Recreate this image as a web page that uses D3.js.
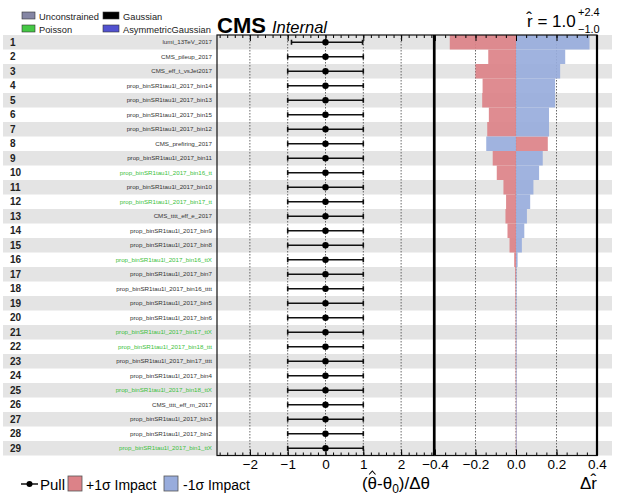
<!DOCTYPE html>
<html lang="en">
<head>
<meta charset="UTF-8">
<title>Impacts</title>
<script src="https://d3js.org/d3.v7.min.js"></script>
<style>
  body { margin: 0; background: #fff; }
  svg text { font-family: "Liberation Sans", Arial, Helvetica, sans-serif; }
</style>
</head>
<body>
<svg id="impacts" width="617" height="496"></svg>
<script>
// nuisance parameters, ranked by impact
const labels = [
  "lumi_13TeV_2017", "CMS_pileup_2017", "CMS_eff_t_vsJet2017",
  "prop_binSR1tau1l_2017_bin14", "prop_binSR1tau1l_2017_bin13", "prop_binSR1tau1l_2017_bin15",
  "prop_binSR1tau1l_2017_bin12", "CMS_prefiring_2017", "prop_binSR1tau1l_2017_bin11",
  "prop_binSR1tau1l_2017_bin16_tt", "prop_binSR1tau1l_2017_bin10", "prop_binSR1tau1l_2017_bin17_tt",
  "CMS_tttt_eff_e_2017", "prop_binSR1tau1l_2017_bin9", "prop_binSR1tau1l_2017_bin8",
  "prop_binSR1tau1l_2017_bin16_ttX", "prop_binSR1tau1l_2017_bin7", "prop_binSR1tau1l_2017_bin16_tttt",
  "prop_binSR1tau1l_2017_bin5", "prop_binSR1tau1l_2017_bin6", "prop_binSR1tau1l_2017_bin17_ttX",
  "prop_binSR1tau1l_2017_bin18_ttt", "prop_binSR1tau1l_2017_bin17_tttt", "prop_binSR1tau1l_2017_bin4",
  "prop_binSR1tau1l_2017_bin18_ttX", "CMS_tttt_eff_m_2017", "prop_binSR1tau1l_2017_bin3",
  "prop_binSR1tau1l_2017_bin2", "prop_binSR1tau1l_2017_bin1_ttX"
];
const constraintTypes = [
  "Gaussian", "Gaussian", "Gaussian", "Gaussian", "Gaussian", "Gaussian", "Gaussian", "Gaussian", "Gaussian",
  "Poisson", "Gaussian", "Poisson", "Gaussian", "Gaussian", "Gaussian", "Poisson", "Gaussian", "Gaussian",
  "Gaussian", "Gaussian", "Poisson", "Poisson", "Gaussian", "Gaussian", "Poisson", "Gaussian", "Gaussian",
  "Gaussian", "Poisson"
];
const pullValues = [0, 0, 0, 0, 0, 0, 0, 0, 0, 0, 0, 0, 0, 0, 0, 0, 0, 0, 0, 0, 0, 0, 0, 0, 0, 0, 0, 0, 0];
const pullLow = [-0.9, -1, -1, -1, -1, -1, -1, -1, -1, -1, -1, -1, -1, -1, -1, -1, -1, -1, -1, -1, -1, -1, -1, -1, -1, -1, -1, -1, -1];
const pullHigh = [0.98, 1, 1, 1, 1, 1, 1, 1, 1, 1, 1, 1, 1, 1, 1, 1, 1, 1, 1, 1, 1, 1, 1, 1, 1, 1, 1, 1, 1];
const impactUp = [
  -0.327, -0.137, -0.200, -0.165, -0.167, -0.134, -0.142, 0.157, -0.115,
  -0.095, -0.062, -0.049, -0.052, -0.042, -0.032, -0.009, -0.004, -0.003,
  -0.003, -0.002, -0.002, -0.002, -0.002, -0.002, -0.001, -0.001, -0.001,
  -0.001, -0.001
];
const impactDown = [
  0.363, 0.243, 0.218, 0.193, 0.193, 0.163, 0.163, -0.147, 0.132,
  0.114, 0.086, 0.070, 0.054, 0.041, 0.029, 0.008, 0.003, 0.003,
  0.002, 0.002, 0.002, 0.002, 0.002, 0.002, 0.001, 0.001, 0.001,
  0.001, 0.001
];
const pullTicks = [-2, -1, 0, 1, 2];
const impactTicks = [-0.4, -0.2, 0, 0.2, 0.4];

const svg = d3.select("#impacts");
const rows = d3.range(labels.length);

const plotTop = 35, plotBottom = 455.5;
const y = d3.scaleBand().domain(rows).range([plotTop, plotBottom]);
const xPull = d3.scaleLinear().domain([-2.87, 2.87]).range([217, 434]);
const xImp = d3.scaleLinear().domain([-0.4, 0.4]).range([435, 597]);

const red = "#dc8288", blue = "#98acdc", green = "#3cbf3c";

// row stripes
svg.append("g").selectAll("rect").data(rows.filter(i => i % 2 == 0)).join("rect")
  .attr("x", 3).attr("width", 609)
  .attr("y", i => y(i)).attr("height", y.bandwidth())
  .attr("fill", "#e4e4e4");

// row numbers and labels
svg.append("g").selectAll("text").data(rows).join("text")
  .attr("x", 10).attr("y", i => y(i) + y.bandwidth() / 2 + 3.6)
  .attr("font-size", 10).attr("font-weight", "bold").attr("fill", "#222")
  .text(i => i + 1);

svg.append("g").selectAll("text").data(rows).join("text")
  .attr("x", 212).attr("y", i => y(i) + y.bandwidth() / 2 + 2.2)
  .attr("text-anchor", "end").attr("font-size", 6.2)
  .attr("fill", i => constraintTypes[i] == "Poisson" ? green : "#333")
  .text(i => labels[i]);

// dotted gridlines
const grid = svg.append("g").attr("stroke", "#444").attr("stroke-width", 0.8).attr("stroke-dasharray", "1.5,1.5");
grid.selectAll("line.p").data(pullTicks).join("line").attr("class", "p")
  .attr("x1", d => xPull(d)).attr("x2", d => xPull(d)).attr("y1", plotTop).attr("y2", plotBottom);
grid.selectAll("line.i").data([-0.2, 0, 0.2]).join("line").attr("class", "i")
  .attr("x1", d => xImp(d)).attr("x2", d => xImp(d)).attr("y1", plotTop).attr("y2", plotBottom);

// impact bars
function bars(values, color) {
  svg.append("g").selectAll("rect").data(rows).join("rect")
    .attr("x", i => Math.min(xImp(0), xImp(values[i])))
    .attr("width", i => Math.max(0.6, Math.abs(xImp(values[i]) - xImp(0))))
    .attr("y", i => y(i)).attr("height", y.bandwidth())
    .attr("fill", color).attr("fill-opacity", 0.92);
}
bars(impactUp, red);
bars(impactDown, blue);

// pulls
const pulls = svg.append("g").attr("stroke", "#111").attr("stroke-width", 1.6);
pulls.selectAll("line.bar").data(rows).join("line").attr("class", "bar")
  .attr("x1", i => xPull(pullLow[i])).attr("x2", i => xPull(pullHigh[i]))
  .attr("y1", i => y(i) + y.bandwidth() / 2).attr("y2", i => y(i) + y.bandwidth() / 2);
[pullLow, pullHigh].forEach(arr => {
  pulls.append("g").selectAll("line").data(rows).join("line")
    .attr("x1", i => xPull(arr[i])).attr("x2", i => xPull(arr[i]))
    .attr("y1", i => y(i) + y.bandwidth() / 2 - 2.5).attr("y2", i => y(i) + y.bandwidth() / 2 + 2.5);
});
svg.append("g").selectAll("circle").data(rows).join("circle")
  .attr("cx", i => xPull(pullValues[i])).attr("cy", i => y(i) + y.bandwidth() / 2)
  .attr("r", 3.2).attr("fill", "#000");

// axes with inward ticks
function axes(scale, major, minor, fmt) {
  svg.append("g").attr("transform", "translate(0," + plotBottom + ")")
    .call(d3.axisBottom(scale).tickValues(minor).tickSize(-3).tickFormat(""))
    .call(g => g.select(".domain").remove());
  svg.append("g").attr("transform", "translate(0," + plotBottom + ")")
    .call(d3.axisBottom(scale).tickValues(major).tickSizeInner(-6).tickSizeOuter(0).tickPadding(4).tickFormat(fmt))
    .call(g => g.select(".domain").remove())
    .call(g => g.selectAll("text").attr("font-size", 13.5).attr("fill", "#000")
      .attr("font-family", "'Liberation Sans', Arial, sans-serif"));
  svg.append("g").attr("transform", "translate(0," + plotTop + ")")
    .call(d3.axisTop(scale).tickValues(minor).tickSize(-3).tickFormat(""))
    .call(g => g.select(".domain").remove());
  svg.append("g").attr("transform", "translate(0," + plotTop + ")")
    .call(d3.axisTop(scale).tickValues(major).tickSize(-6).tickFormat(""))
    .call(g => g.select(".domain").remove());
}
axes(xPull, pullTicks, d3.range(-14, 15).map(i => i * 0.2), d3.format("d"));
axes(xImp, impactTicks, d3.range(-8, 9).map(i => i * 0.05), d3.format(".1f"));

// frames
svg.append("rect").attr("x", xPull.range()[0]).attr("y", plotTop)
  .attr("width", xPull.range()[1] - xPull.range()[0]).attr("height", plotBottom - plotTop)
  .attr("fill", "none").attr("stroke", "#111").attr("stroke-width", 1.2);
svg.append("rect").attr("x", xImp.range()[0]).attr("y", plotTop)
  .attr("width", xImp.range()[1] - xImp.range()[0]).attr("height", plotBottom - plotTop)
  .attr("fill", "none").attr("stroke", "#111").attr("stroke-width", 1.2);
[xPull.range()[1], xImp.range()[1]].forEach(x => {
  svg.append("line").attr("x1", x).attr("x2", x).attr("y1", plotTop).attr("y2", plotBottom)
    .attr("stroke", "#000").attr("stroke-width", 2.2);
});

// top legend
const legendItems = [
  {name: "Unconstrained", color: "#8586a4", col: 0, row: 0},
  {name: "Gaussian", color: "#000", col: 1, row: 0},
  {name: "Poisson", color: "#45c845", col: 0, row: 1},
  {name: "AsymmetricGaussian", color: "#5252d0", col: 1, row: 1}
];
const leg = svg.append("g");
legendItems.forEach(d => {
  const lx = d.col == 0 ? 22 : 103, ly = d.row == 0 ? 12 : 25;
  leg.append("rect").attr("x", lx).attr("y", ly).attr("width", d.col == 0 ? 13 : 16).attr("height", 7)
    .attr("fill", d.color).attr("stroke", "#333").attr("stroke-width", 0.6);
  leg.append("text").attr("x", lx + (d.col == 0 ? 17 : 20)).attr("y", ly + 7.5)
    .attr("font-size", 9.3).attr("fill", "#222").text(d.name);
});

// CMS label
svg.append("text").attr("x", 217).attr("y", 33).attr("font-size", 22).attr("font-weight", "bold").text("CMS");
svg.append("text").attr("x", 272).attr("y", 33).attr("font-size", 16.5).attr("font-style", "italic").text("Internal");

// r-hat
svg.append("text").attr("x", 527).attr("y", 27).attr("font-size", 17).text("r\u0302 = 1.0");
svg.append("text").attr("x", 578).attr("y", 16).attr("font-size", 11).text("+2.4");
svg.append("text").attr("x", 578).attr("y", 33).attr("font-size", 11).text("\u22121.0");

// axis titles
const xt = svg.append("text").attr("x", 396).attr("y", 489).attr("text-anchor", "middle").attr("font-size", 17);
xt.append("tspan").text("(\u03b8-\u03b8");
xt.append("tspan").attr("font-size", 12).attr("dy", 4).text("0");
xt.append("tspan").attr("dy", -4).text(")/\u0394\u03b8");
// hat over the first theta, drawn as a small stroke
const th = xt.node().getExtentOfChar(1);
const hx = th.x + th.width / 2;
svg.append("path").attr("d", `M${hx - 3.2},474.5L${hx},471L${hx + 3.2},474.5`)
  .attr("fill", "none").attr("stroke", "#000").attr("stroke-width", 1.1);
svg.append("text").attr("x", 580).attr("y", 489).attr("font-size", 17).text("\u0394r\u0302");

// bottom legend
const bl = svg.append("g");
bl.append("line").attr("x1", 21).attr("x2", 38).attr("y1", 484).attr("y2", 484).attr("stroke", "#000").attr("stroke-width", 1.4);
bl.append("circle").attr("cx", 29.5).attr("cy", 484).attr("r", 3).attr("fill", "#000");
bl.append("text").attr("x", 40).attr("y", 490).attr("font-size", 15).text("Pull");
bl.append("rect").attr("x", 68).attr("y", 476).attr("width", 14).attr("height", 15)
  .attr("fill", red).attr("stroke", "#555").attr("stroke-width", 0.8);
bl.append("text").attr("x", 86).attr("y", 490).attr("font-size", 14).text("+1\u03c3 Impact");
bl.append("rect").attr("x", 164).attr("y", 476).attr("width", 14).attr("height", 15)
  .attr("fill", blue).attr("stroke", "#555").attr("stroke-width", 0.8);
bl.append("text").attr("x", 183).attr("y", 490).attr("font-size", 14).text("-1\u03c3 Impact");
</script>
</body>
</html>
